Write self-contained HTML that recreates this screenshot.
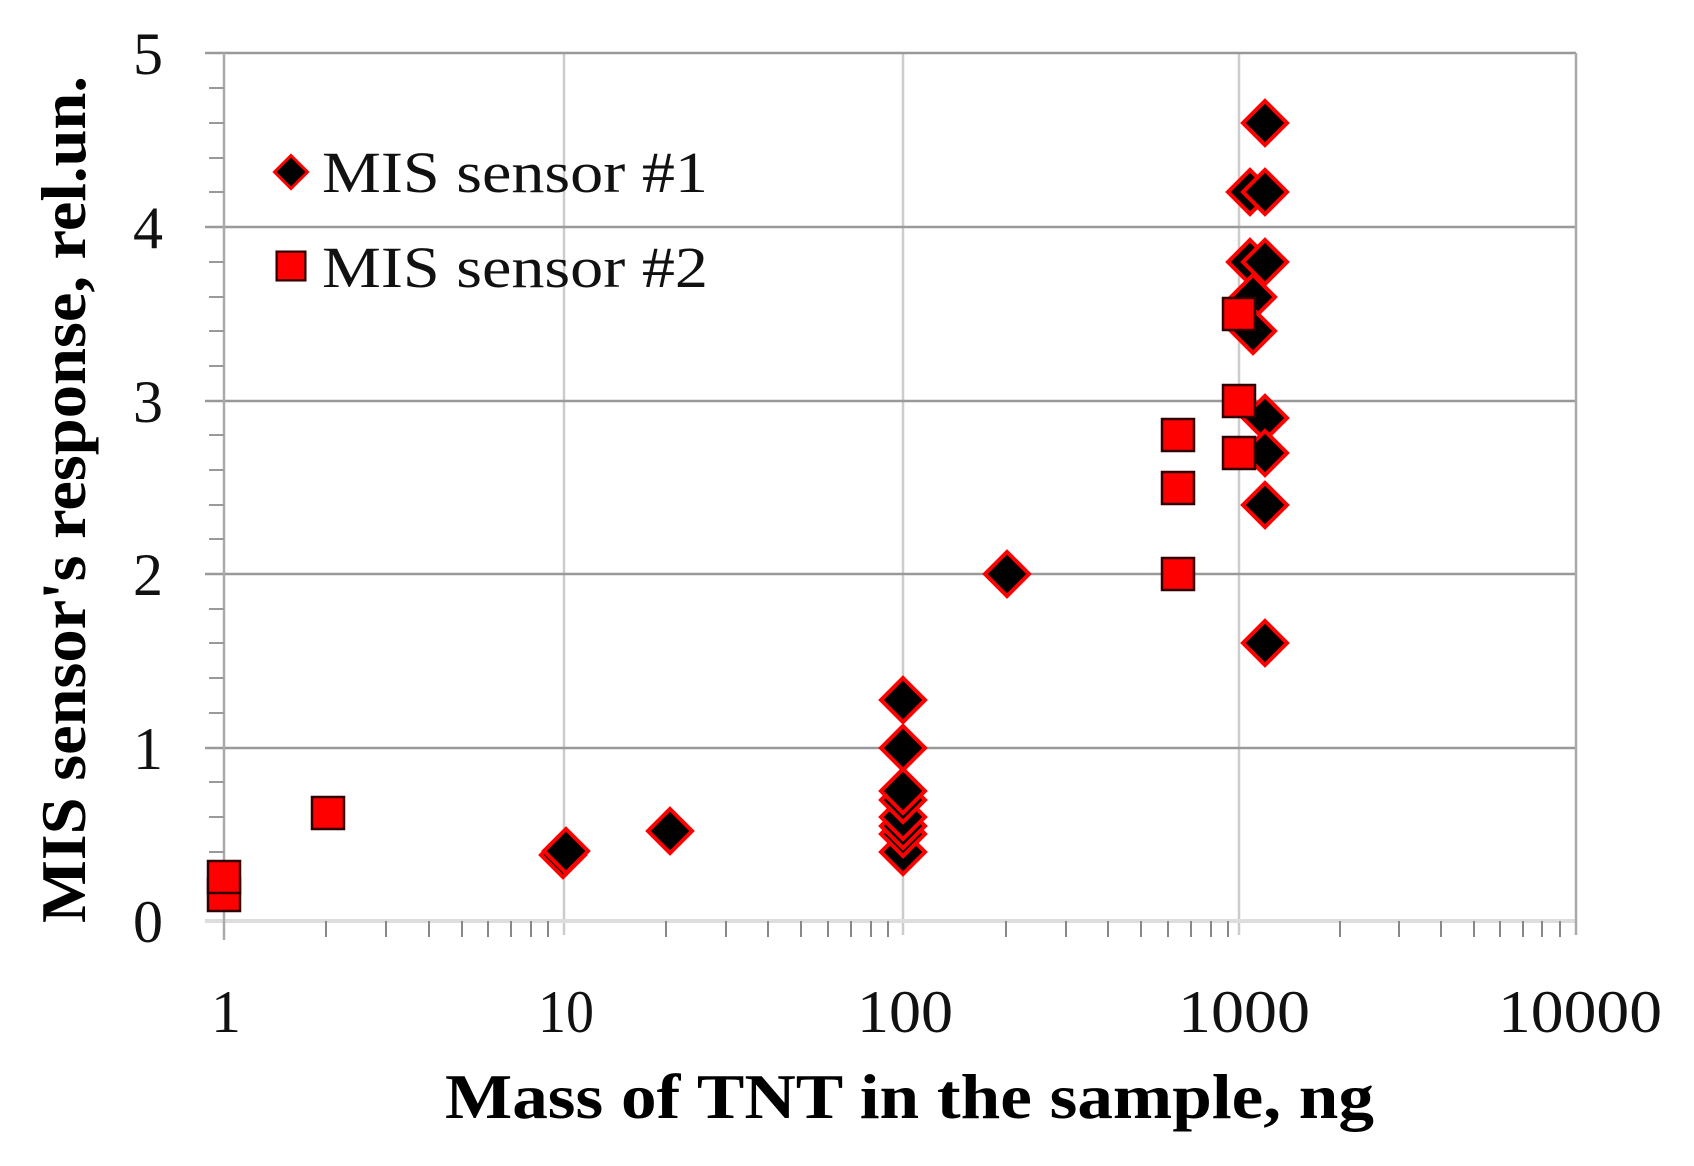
<!DOCTYPE html>
<html><head><meta charset="utf-8"><style>html,body{margin:0;padding:0;background:#fff}svg{display:block}</style></head>
<body>
<svg width="1694" height="1166" viewBox="0 0 1694 1166" xmlns="http://www.w3.org/2000/svg">
<defs>
<g id="d"><polygon points="0,-22 22,0 0,22 -22,0" fill="#000" stroke="#f00" stroke-width="4"/></g>
<g id="s"><rect x="-16" y="-16" width="32" height="32" fill="#f00" stroke="#300" stroke-width="2.5"/></g>
</defs>
<rect width="1694" height="1166" fill="#fff"/>
<g stroke="#ccc" stroke-width="2.5">
<line x1="564" y1="53" x2="564" y2="935"/>
<line x1="903" y1="53" x2="903" y2="935"/>
<line x1="1239" y1="53" x2="1239" y2="935"/>
</g>
<g stroke="#999" stroke-width="2.5">
<line x1="205" y1="748" x2="1576" y2="748"/>
<line x1="205" y1="574" x2="1576" y2="574"/>
<line x1="205" y1="401" x2="1576" y2="401"/>
<line x1="205" y1="227" x2="1576" y2="227"/>
<line x1="205" y1="53" x2="1576" y2="53"/>
</g>
<line x1="205" y1="921" x2="1576" y2="921" stroke="#ddd" stroke-width="4"/>
<line x1="224" y1="53" x2="224" y2="940" stroke="#aaa" stroke-width="2.5"/>
<line x1="1576" y1="53" x2="1576" y2="935" stroke="#aaa" stroke-width="2.5"/>
<g stroke="#999" stroke-width="2">
<line x1="209" y1="887" x2="224" y2="887"/><line x1="209" y1="852" x2="224" y2="852"/><line x1="209" y1="817" x2="224" y2="817"/><line x1="209" y1="782" x2="224" y2="782"/>
<line x1="209" y1="713" x2="224" y2="713"/><line x1="209" y1="678" x2="224" y2="678"/><line x1="209" y1="643" x2="224" y2="643"/><line x1="209" y1="609" x2="224" y2="609"/>
<line x1="209" y1="539" x2="224" y2="539"/><line x1="209" y1="505" x2="224" y2="505"/><line x1="209" y1="470" x2="224" y2="470"/><line x1="209" y1="435" x2="224" y2="435"/>
<line x1="209" y1="366" x2="224" y2="366"/><line x1="209" y1="331" x2="224" y2="331"/><line x1="209" y1="297" x2="224" y2="297"/><line x1="209" y1="262" x2="224" y2="262"/>
<line x1="209" y1="192" x2="224" y2="192"/><line x1="209" y1="158" x2="224" y2="158"/><line x1="209" y1="123" x2="224" y2="123"/><line x1="209" y1="88" x2="224" y2="88"/>
</g>
<path stroke="#888" stroke-width="2" fill="none" d="
M326 921V937M386 921V937M429 921V937M462 921V937M488 921V937M511 921V937M531 921V937M548 921V937
M666 921V937M726 921V937M768 921V937M801 921V937M828 921V937M851 921V937M871 921V937M888 921V937
M1006 921V937M1066 921V937M1108 921V937M1141 921V937M1168 921V937M1191 921V937M1211 921V937M1228 921V937
M1340 921V937M1399 921V937M1441 921V937M1474 921V937M1500 921V937M1523 921V937M1542 921V937M1560 921V937"/>
<g font-family="Liberation Serif, serif" font-size="60" fill="#111" text-anchor="middle">
<text x="148" y="942">0</text><text x="148" y="769">1</text><text x="148" y="595">2</text><text x="148" y="422">3</text><text x="148" y="248">4</text><text x="148" y="74">5</text>
<text x="226" y="1032">1</text><text x="566" y="1032" textLength="56" lengthAdjust="spacingAndGlyphs">10</text><text x="905" y="1032" textLength="96" lengthAdjust="spacingAndGlyphs">100</text><text x="1244" y="1032" textLength="132" lengthAdjust="spacingAndGlyphs">1000</text><text x="1580" y="1032" textLength="164" lengthAdjust="spacingAndGlyphs">10000</text>
</g>
<text x="445" y="1118" textLength="929" lengthAdjust="spacingAndGlyphs" font-family="Liberation Serif, serif" font-weight="bold" font-size="64" fill="#000">Mass of TNT in the sample, ng</text>
<text transform="translate(85,923) rotate(-90)" textLength="847" lengthAdjust="spacingAndGlyphs" font-family="Liberation Serif, serif" font-weight="bold" font-size="64" fill="#000">MIS sensor's response,  rel.un.</text>
<use href="#d" transform="translate(291,172) scale(0.75)"/>
<use href="#s" transform="translate(291,266) scale(0.9)"/>
<g font-family="Liberation Serif, serif" font-size="58" fill="#111">
<text x="322" y="192" textLength="386" lengthAdjust="spacingAndGlyphs">MIS sensor #1</text><text x="322" y="287" textLength="386" lengthAdjust="spacingAndGlyphs">MIS sensor #2</text>
</g>
<use href="#s" x="224" y="895"/><use href="#s" x="224" y="877"/>
<use href="#s" x="328" y="813"/>
<use href="#d" x="563" y="855"/><use href="#d" x="566" y="851"/>
<use href="#d" x="670" y="831"/>
<use href="#d" x="903" y="852"/><use href="#d" x="903" y="834"/><use href="#d" x="903" y="826"/><use href="#d" x="903" y="817"/><use href="#d" x="903" y="800"/><use href="#d" x="903" y="791"/><use href="#d" x="903" y="748"/><use href="#d" x="903" y="700"/>
<use href="#d" x="1007" y="574"/>
<use href="#d" x="1250" y="192"/><use href="#d" x="1250" y="262"/><use href="#d" x="1253" y="297"/><use href="#d" x="1253" y="331"/>
<use href="#d" x="1265" y="123"/><use href="#d" x="1265" y="192"/><use href="#d" x="1265" y="262"/><use href="#d" x="1265" y="418"/><use href="#d" x="1265" y="453"/><use href="#d" x="1265" y="505"/><use href="#d" x="1265" y="643"/>
<use href="#s" x="1178" y="574"/><use href="#s" x="1178" y="488"/><use href="#s" x="1178" y="435"/>
<use href="#s" x="1239" y="314"/><use href="#s" x="1239" y="401"/><use href="#s" x="1239" y="453"/>
</svg>
</body></html>
